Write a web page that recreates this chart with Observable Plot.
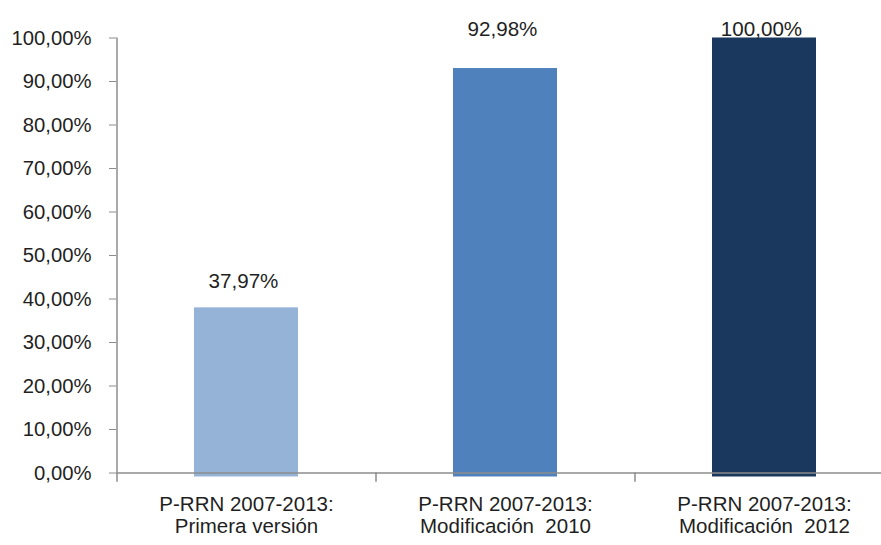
<!DOCTYPE html>
<html>
<head>
<meta charset="utf-8">
<script src="https://cdn.jsdelivr.net/npm/d3@7"></script>
<script src="https://cdn.jsdelivr.net/npm/@observablehq/plot@0.6"></script>
<style>
  html, body { margin: 0; padding: 0; background: #fff; }
  svg text { white-space: pre; }
</style>
</head>
<body>
<div id="chart"></div>
<script>
const categories = [
  "P-RRN 2007-2013:\nPrimera versión",
  "P-RRN 2007-2013:\nModificación  2010",
  "P-RRN 2007-2013:\nModificación  2012"
];
const values = [37.97, 92.98, 100.00];
const colors = ["#95B3D7", "#4F81BD", "#1A375E"];
const yTicks = [0, 10, 20, 30, 40, 50, 60, 70, 80, 90, 100];

const data = categories.map((c, i) => ({category: c, value: values[i], color: colors[i]}));
const fmt = v => v.toFixed(2).replace(".", ",") + "%";
const FONT = "'Liberation Sans', Arial, sans-serif";
const halfStep = (893.5 - 116.5) / categories.length / 2;

const chart = Plot.plot({
  width: 881,
  height: 545,
  marginLeft: 116,
  marginRight: 0,
  marginTop: 37.5,
  marginBottom: 72.5,
  style: {fontFamily: FONT, background: "#fff", color: "#1f1f1f"},
  x: {domain: categories, range: [116.5, 893.5], paddingInner: 0.6, paddingOuter: 0.3, label: null},
  y: {domain: [0, 100], range: [472.5, 37.5], label: null},
  marks: [
    Plot.barY(data, {x: "category", y: "value", fill: "color", insetBottom: -4}),
    Plot.ruleY([0], {stroke: "#8c8c8c", strokeWidth: 1.5}),
    Plot.ruleX([categories[0]], {x: d => d, dx: -halfStep, y1: 0, y2: 100, stroke: "#8c8c8c", strokeWidth: 1.5}),
    Plot.ruleX(categories, {x: d => d, dx: -halfStep, y1: 0, y2: -2.1, stroke: "#8c8c8c", strokeWidth: 1.5}),
    Plot.axisY(yTicks, {tickSize: 7, tickPadding: 18, tickFormat: fmt, fontSize: 20.3, stroke: "#8c8c8c", fill: "#1f1f1f", label: null}),
    Plot.axisX({tickSize: 0, tickPadding: 23, fontSize: 20.5, lineHeight: 1.06, fill: "#1f1f1f", label: null}),
    Plot.text(data.filter(d => d.value < 90), {x: "category", y: "value", text: d => fmt(d.value), dy: -26, dx: -3, fontSize: 20.6, fill: "#1f1f1f"}),
    Plot.text(data.filter(d => d.value >= 90), {x: "category", y: () => 100, text: d => fmt(d.value), dy: -9, dx: -3, fontSize: 20.6, fill: "#1f1f1f"})
  ]
});
document.getElementById("chart").appendChild(chart);
</script>
</body>
</html>
